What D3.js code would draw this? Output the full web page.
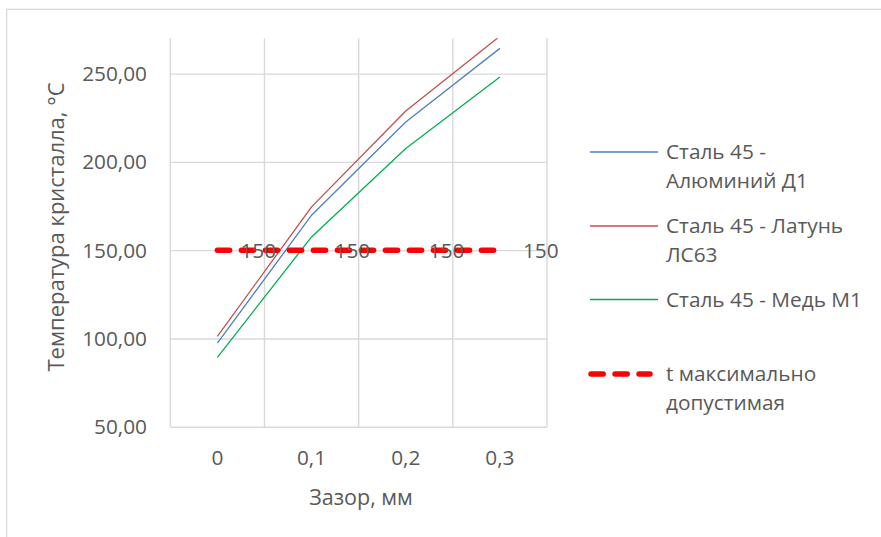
<!DOCTYPE html>
<html>
<head>
<meta charset="utf-8">
<script src="https://cdn.jsdelivr.net/npm/d3@7/dist/d3.min.js"></script>
<style>
  html, body { margin: 0; padding: 0; background: #fff; }
  svg { display: block; }
  text { font-family: "Open Sans", "Noto Sans", sans-serif; fill: #595959; }
</style>
</head>
<body>
<svg id="chart" width="881" height="537"></svg>
<script>
// Gap values (mm) along the category axis
const categories = ["0", "0,1", "0,2", "0,3"];

// Crystal temperature, °C, for each steel pair
const aluminium = [97.4, 169.8, 222.6, 264.3];
const brass     = [101.2, 174.5, 228.8, 271.2];
const copper    = [89.3, 157.5, 207.6, 248.1];
const tMax      = [150, 150, 150, 150];

const seriesNames = [
  ["Сталь 45 -", "Алюминий Д1"],
  ["Сталь 45 - Латунь", "ЛС63"],
  ["Сталь 45 - Медь М1"],
  ["t максимально", "допустимая"]
];

const yTicks = [50, 100, 150, 200, 250];
const yDomain = [50, 270];

const svg = d3.select("#chart");
const plot = { left: 170.3, right: 547, top: 38.3, bottom: 426.7 };
const fontSize = 20.8;

// outer chart frame
svg.append("rect")
  .attr("x", 6.7).attr("y", 9.3)
  .attr("width", 900).attr("height", 560)
  .attr("fill", "none").attr("stroke", "#d9d9d9").attr("stroke-width", 1.3);

const x = d3.scaleBand().domain(categories).range([plot.left, plot.right]);
const xc = c => x(c) + x.bandwidth() / 2;
const y = d3.scaleLinear().domain(yDomain).range([plot.bottom, plot.top]);

const grid = "#d9d9d9";

// horizontal gridlines
svg.append("g")
  .attr("transform", `translate(${plot.left},0)`)
  .call(d3.axisLeft(y).tickValues(yTicks).tickSize(-(plot.right - plot.left)).tickFormat(""))
  .call(g => g.select(".domain").remove())
  .call(g => g.selectAll("line").attr("stroke", grid).attr("stroke-width", 1.4));

// vertical gridlines on category boundaries
const bounds = categories.map(c => x(c)).concat([plot.right]);
svg.append("g").selectAll("line").data(bounds).join("line")
  .attr("x1", d => d).attr("x2", d => d)
  .attr("y1", plot.top).attr("y2", plot.bottom)
  .attr("stroke", grid).attr("stroke-width", 1.4);

// y tick labels
svg.append("g").selectAll("text").data(yTicks).join("text")
  .attr("x", 147).attr("y", d => y(d))
  .attr("dy", "0.36em")
  .attr("text-anchor", "end")
  .attr("font-size", fontSize)
  .text(d => d3.format(".2f")(d).replace(".", ","));

// x tick labels
svg.append("g").selectAll("text").data(categories).join("text")
  .attr("x", d => xc(d)).attr("y", 465)
  .attr("text-anchor", "middle")
  .attr("font-size", fontSize)
  .text(d => d);

// axis titles
svg.append("text")
  .attr("x", 361).attr("y", 505)
  .attr("text-anchor", "middle")
  .attr("font-size", 21.5)
  .text("Зазор, мм");

svg.append("text")
  .attr("transform", "translate(64,227) rotate(-90)")
  .attr("text-anchor", "middle")
  .attr("font-size", 22)
  .text("Температура кристалла, °С");

// clip for series
svg.append("clipPath").attr("id", "plotclip")
  .append("rect")
  .attr("x", plot.left - 10).attr("y", plot.top)
  .attr("width", plot.right - plot.left + 20).attr("height", plot.bottom - plot.top);

const line = d3.line().x((d, i) => xc(categories[i])).y(d => y(d));

const series = [
  { values: aluminium, color: "#4f81bd", width: 1.3 },
  { values: brass,     color: "#c0504d", width: 1.3 },
  { values: copper,    color: "#00b050", width: 1.3 }
];

const lines = svg.append("g").attr("clip-path", "url(#plotclip)");
series.forEach(s => {
  lines.append("path")
    .attr("d", line(s.values))
    .attr("fill", "none")
    .attr("stroke", s.color)
    .attr("stroke-width", s.width)
    .attr("stroke-linejoin", "round");
});

// maximum permissible temperature
const dashStyle = { color: "#ff0000", width: 5.5, dash: "12.2 11.8" };
svg.append("path")
  .attr("d", line(tMax))
  .attr("fill", "none")
  .attr("stroke", dashStyle.color)
  .attr("stroke-width", dashStyle.width)
  .attr("stroke-dasharray", dashStyle.dash)
  .attr("stroke-linecap", "round");

// value labels to the right of each point
svg.append("g").selectAll("text").data(tMax).join("text")
  .attr("x", (d, i) => xc(categories[i]) + 23)
  .attr("y", d => y(d))
  .attr("dy", "0.36em")
  .attr("text-anchor", "start")
  .attr("font-size", fontSize)
  .text(d => d);

// legend
const legend = svg.append("g");
const legendItems = [
  { names: seriesNames[0], y: 152, color: series[0].color, dashed: false },
  { names: seriesNames[1], y: 226, color: series[1].color, dashed: false },
  { names: seriesNames[2], y: 299.5, color: series[2].color, dashed: false },
  { names: seriesNames[3], y: 374, color: dashStyle.color, dashed: true }
];
legendItems.forEach(it => {
  const sample = legend.append("line")
    .attr("x1", it.dashed ? 591 : 590).attr("x2", it.dashed ? 650 : 658)
    .attr("y1", it.y).attr("y2", it.y)
    .attr("stroke", it.color);
  if (it.dashed) {
    sample.attr("stroke-width", dashStyle.width)
      .attr("stroke-dasharray", dashStyle.dash)
      .attr("stroke-linecap", "round");
  } else {
    sample.attr("stroke-width", 1.3);
  }
  const t = legend.append("text")
    .attr("x", 666).attr("y", it.y)
    .attr("font-size", fontSize);
  it.names.forEach((n, i) => {
    t.append("tspan").attr("x", 666).attr("dy", i === 0 ? "0.36em" : 29).text(n);
  });
});
</script>
</body>
</html>
